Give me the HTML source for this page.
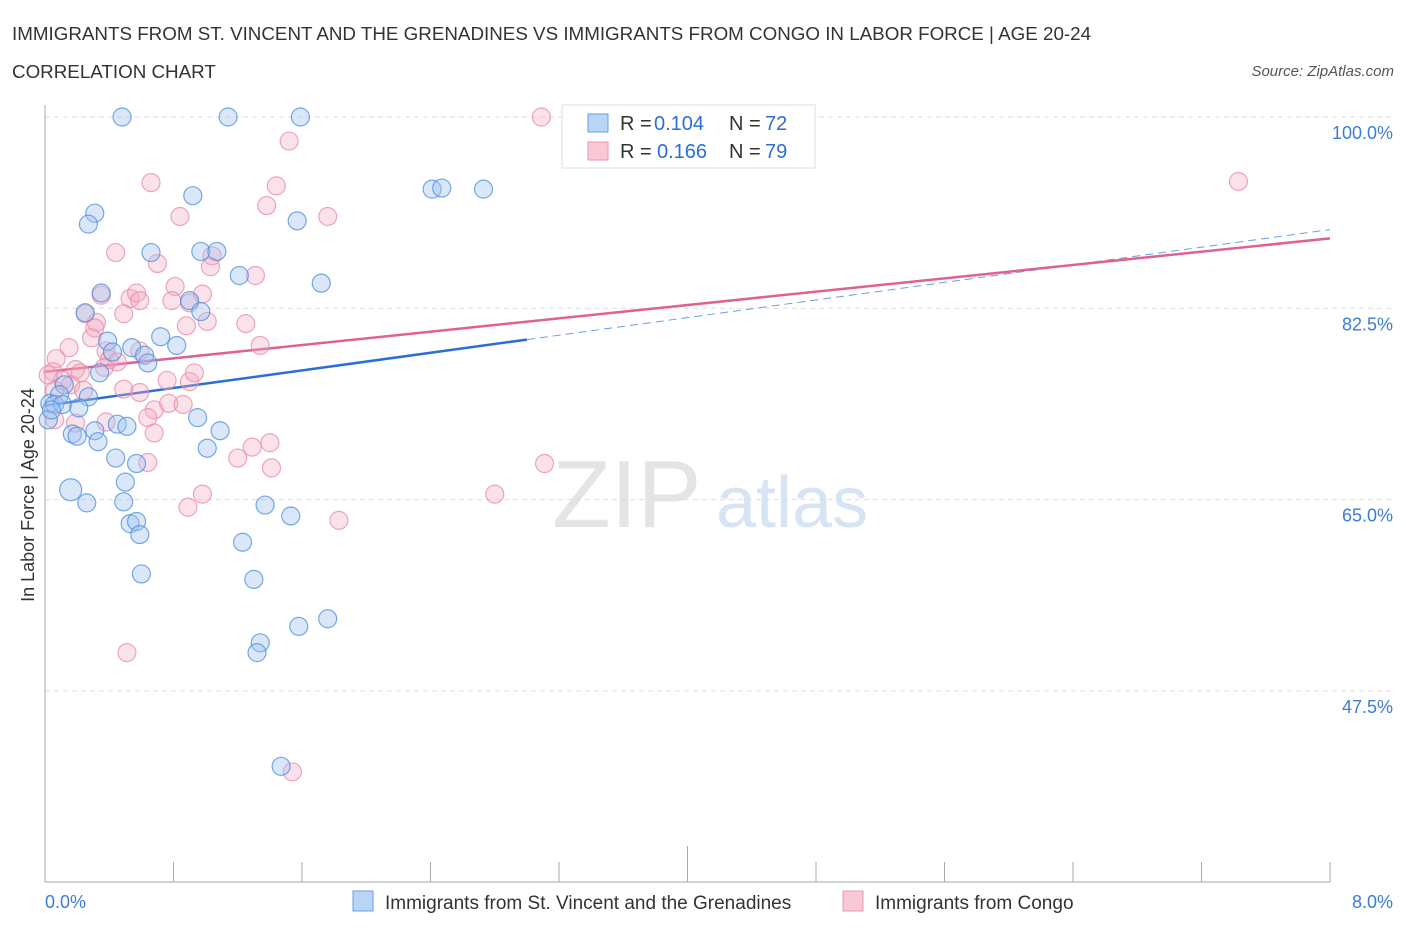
<!DOCTYPE html>
<html><head><meta charset="utf-8"><style>
body{margin:0;background:#fff;font-family:"Liberation Sans",sans-serif;}
svg text{font-family:"Liberation Sans",sans-serif;}
</style></head><body>
<svg id="chart" width="1406" height="930" xmlns="http://www.w3.org/2000/svg">
<text x="12" y="40" font-size="18.8" fill="#333">IMMIGRANTS FROM ST. VINCENT AND THE GRENADINES VS IMMIGRANTS FROM CONGO IN LABOR FORCE | AGE 20-24</text>
<text x="12" y="78" font-size="18.8" fill="#333">CORRELATION CHART</text>
<text x="1394" y="76" font-size="15" fill="#555" text-anchor="end" font-style="italic">Source: ZipAtlas.com</text>
<text x="552" y="527" font-size="96" fill="#e4e4e4" font-family="Liberation Serif">ZIP</text>
<text x="716" y="527" font-size="72" fill="#d6e4f4">atlas</text>
<g id="grid"></g>
<g id="axes"></g>
<g id="lines"></g>
<g id="pts"></g>
<text transform="translate(34,495) rotate(-90)" font-size="18" fill="#333" text-anchor="middle">In Labor Force | Age 20-24</text>
<g>
<rect x="562" y="105" width="253" height="63" fill="#fff" stroke="#ddd"/>
<rect x="588" y="114" width="20" height="18" fill="#b8d4f6" stroke="#6a9ee0"/>
<text x="620" y="130" font-size="20" fill="#333">R =</text>
<text x="654" y="130" font-size="20" fill="#2a6fd6">0.104</text>
<text x="729" y="130" font-size="20" fill="#333">N =</text>
<text x="765" y="130" font-size="20" fill="#2a6fd6">72</text>
<rect x="588" y="142" width="20" height="18" fill="#f8c8d6" stroke="#e898b0"/>
<text x="620" y="158" font-size="20" fill="#333">R =</text>
<text x="657" y="158" font-size="20" fill="#2a6fd6">0.166</text>
<text x="729" y="158" font-size="20" fill="#333">N =</text>
<text x="765" y="158" font-size="20" fill="#2a6fd6">79</text>
</g>
<g>
<rect x="353" y="891" width="20" height="20" fill="#b8d4f6" stroke="#6a9ee0"/>
<text x="385" y="909" font-size="19" fill="#333">Immigrants from St. Vincent and the Grenadines</text>
<rect x="843" y="891" width="20" height="20" fill="#f8c8d6" stroke="#e898b0"/>
<text x="875" y="909" font-size="19" fill="#333">Immigrants from Congo</text>
</g>
</svg>
<script>
const blueX=[0.48,1.14,1.59,2.41,2.47,2.73,0.92,0.31,0.27,1.57,0.66,0.97,1.07,1.21,1.72,0.35,0.90,0.97,0.25,0.72,0.39,0.54,0.82,0.42,0.62,0.64,0.34,0.12,0.09,0.27,0.03,0.06,0.11,0.21,0.95,0.45,0.51,1.09,0.17,0.20,0.31,0.33,1.01,0.44,0.57,0.50,0.16,0.26,0.49,1.37,1.53,0.53,0.57,0.59,1.23,0.60,1.30,1.58,1.76,1.34,1.32,1.47,0.02,0.04];
const blueY=[100,100,100,93.4,93.5,93.4,92.8,91.2,90.2,90.5,87.6,87.7,87.7,85.5,84.8,83.9,83.2,82.2,82.1,79.9,79.5,78.9,79.1,78.5,78.2,77.5,76.6,75.5,74.6,74.4,73.8,73.7,73.7,73.4,72.5,71.9,71.7,71.3,71.0,70.8,71.3,70.3,69.7,68.8,68.3,66.6,65.9,64.7,64.8,64.5,63.5,62.8,63.0,61.8,61.1,58.2,57.7,53.4,54.1,51.9,51.0,40.6,72.3,73.2];
const pinkX=[3.09,1.52,0.66,1.44,7.43,0.84,1.38,1.76,0.44,0.70,1.04,1.03,1.31,0.81,0.35,0.53,0.57,0.59,0.98,0.90,0.25,0.79,0.49,0.32,0.31,0.88,1.01,1.25,0.29,0.38,1.34,0.07,0.15,0.05,0.11,0.19,0.22,0.40,0.45,0.59,0.76,0.90,0.93,0.06,0.16,0.24,0.37,0.49,0.59,0.68,0.77,0.86,0.64,0.38,0.19,0.68,1.20,1.29,1.40,1.41,0.64,0.98,0.89,1.83,2.80,3.11,0.51,1.54,0.06,0.02];
const pinkY=[100,97.8,94.0,93.7,94.1,90.9,91.9,90.9,87.6,86.6,87.3,86.3,85.5,84.5,83.7,83.4,83.9,83.2,83.8,83.0,82.0,83.2,82.0,81.2,80.7,80.9,81.3,81.1,79.8,78.6,79.1,77.9,78.9,76.7,75.9,76.9,76.6,77.8,77.6,78.6,75.9,75.8,76.6,75.0,75.5,75.0,77.1,75.1,74.8,73.2,73.8,73.7,72.5,72.1,72.0,71.1,68.8,69.8,70.2,67.9,68.4,65.5,64.3,63.1,65.5,68.3,51.0,40.1,72.3,76.4];
const blueTrend=[73.6,89.7];
const pinkTrend=[76.7,88.9];
const yTicks=[100,82.5,65,47.5];
const yTickLabels=["100.0%","82.5%","65.0%","47.5%"];
const xTicks=[0,0.8,1.6,2.4,3.2,4,4.8,5.6,6.4,7.2,8];
const NS="http://www.w3.org/2000/svg";
const X=v=>45+v/8*1285;
const Y=v=>117+(100-v)/17.5*191.3;
function mk(tag,attrs,parent){const e=document.createElementNS(NS,tag);for(const k in attrs)e.setAttribute(k,attrs[k]);document.getElementById(parent).appendChild(e);return e;}
yTicks.forEach((v,i)=>{
 const l=mk('line',{x1:45,x2:1394,y1:Y(v),y2:Y(v),stroke:'#ddd','stroke-dasharray':'5,4'},'grid');
 
 
 const t=mk('text',{x:1393,y:Y(v)+22,'font-size':18,fill:'#3d7bd9','text-anchor':'end'},'grid');
 t.textContent=yTickLabels[i];
 
 
});
const ya=mk('line',{x1:45,x2:45,y1:105,y2:882,stroke:'#aaa'},'axes');


const xa=mk('line',{x1:45,x2:1330,y1:882,y2:882,stroke:'#aaa'},'axes');


xTicks.forEach((v,i)=>{
 const t=mk('line',{x1:X(v),x2:X(v),y1:i==5?846:862,y2:882,stroke:'#aaa'},'axes');
 
 
});
const xl0=mk('text',{x:45,y:908,'font-size':18,fill:'#3d7bd9'},'axes');xl0.textContent='0.0%';


const xl1=mk('text',{x:1393,y:908,'font-size':18,fill:'#3d7bd9','text-anchor':'end'},'axes');xl1.textContent='8.0%';


function drawPts(xs,ys,fill,stroke,name){
 xs.forEach((x,i)=>{const c=mk('circle',{cx:X(x),cy:Y(ys[i]),r:(name=='point-blue'&&i==46)?11:9,fill:fill,stroke:stroke,'stroke-width':1.2,'stroke-opacity':0.75},'pts');
 
 });
}
drawPts(pinkX,pinkY,'rgba(244,170,192,0.35)','#e88aa8','point-pink');
drawPts(blueX,blueY,'rgba(160,196,240,0.4)','#4a8ede','point-blue');
const bAt=x=>blueTrend[0]+(blueTrend[1]-blueTrend[0])*x/8;
const pAt=x=>pinkTrend[0]+(pinkTrend[1]-pinkTrend[0])*x/8;
const bl=mk('line',{x1:X(0),y1:Y(bAt(0)),x2:X(3.0),y2:Y(bAt(3.0)),stroke:'#2a6fd6','stroke-width':2.5},'lines');


const bd=mk('line',{x1:X(3.0),y1:Y(bAt(3.0)),x2:X(8),y2:Y(bAt(8)),stroke:'#6a9ee0','stroke-width':1,'stroke-dasharray':'8,5'},'lines');


const pl=mk('line',{x1:X(0),y1:Y(pAt(0)),x2:X(8),y2:Y(pAt(8)),stroke:'#e06090','stroke-width':2.5},'lines');


</script>
</body></html>
